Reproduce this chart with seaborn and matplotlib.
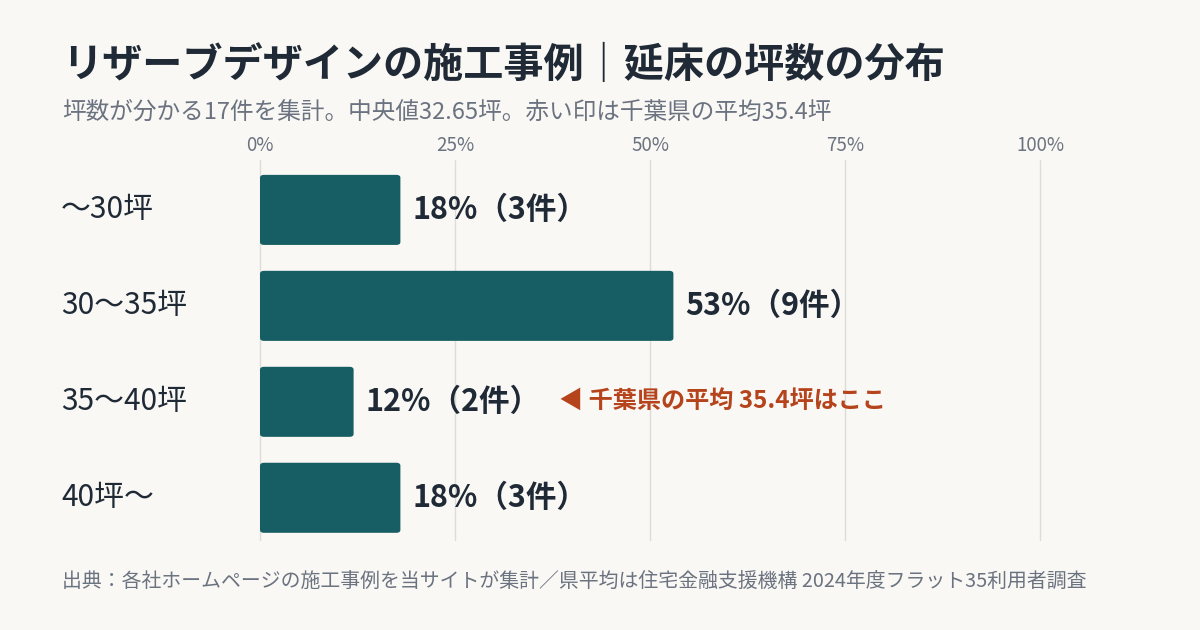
import matplotlib
matplotlib.use("Agg")
import matplotlib.pyplot as plt
import seaborn as sns
import pandas as pd
from matplotlib.patches import FancyBboxPatch

# data
CATEGORIES = ["〜30坪", "30〜35坪", "35〜40坪", "40坪〜"]
PERCENTS = [18, 53, 12, 18]
COUNTS = [3, 9, 2, 3]
X_TICKS = [0, 25, 50, 75, 100]
X_TICK_LABELS = ["0%", "25%", "50%", "75%", "100%"]

TITLE = "リザーブデザインの施工事例｜延床の坪数の分布"
SUBTITLE = "坪数が分かる17件を集計。中央値32.65坪。赤い印は千葉県の平均35.4坪"
NOTE = "◀ 千葉県の平均 35.4坪はここ"
NOTE_CATEGORY = "35〜40坪"
SOURCE = "出典：各社ホームページの施工事例を当サイトが集計／県平均は住宅金融支援機構 2024年度フラット35利用者調査"

BG = "#f9f8f4"
BAR = "#165e63"
DARK = "#1f2a36"
GRAY = "#6b7280"
RED = "#b5431b"
GRID = "#dddcd6"

FONT = ["Noto Sans CJK JP", "DejaVu Sans"]


def main():
    sns.set_theme(style="white")
    plt.rcParams["font.family"] = FONT

    df = pd.DataFrame({"cat": CATEGORIES, "pct": PERCENTS, "n": COUNTS})

    fig = plt.figure(figsize=(12, 6.3), dpi=100, facecolor=BG)
    ax = fig.add_axes([260 / 1200, 1 - 540 / 630, 780 / 1200, 380 / 630])
    ax.set_facecolor(BG)

    sns.barplot(data=df, x="pct", y="cat", color=BAR, width=0.73,
                saturation=1, ax=ax, zorder=3)

    # swap plain rectangles for slightly rounded ones
    for p in list(ax.patches):
        x, y = p.get_x(), p.get_y()
        w, h = p.get_width(), p.get_height()
        p.remove()
        ax.add_patch(FancyBboxPatch((x, y), w, h,
                                    boxstyle="round,pad=0,rounding_size=0.5",
                                    mutation_aspect=0.06,
                                    facecolor=BAR, edgecolor="none", zorder=3))

    ax.set_xlim(0, 100)
    ax.set_ylim(3.44, -0.52)
    ax.set_xticks(X_TICKS)
    ax.set_xticklabels(X_TICK_LABELS)
    ax.xaxis.tick_top()
    ax.tick_params(axis="x", length=0, pad=3, labelsize=13.5, labelcolor=GRAY)
    ax.tick_params(axis="y", length=0)
    ax.set_yticklabels([])
    ax.set_xlabel("")
    ax.set_ylabel("")
    for s in ax.spines.values():
        s.set_visible(False)
    ax.grid(axis="x", color=GRID, linewidth=1, zorder=0)
    for gl in ax.get_xgridlines():
        gl.set_clip_on(False)
    ax.set_axisbelow(True)

    for i, (cat, v, n) in enumerate(zip(CATEGORIES, PERCENTS, COUNTS)):
        ax.text(v + 1.5, i, f"{v}%（{n}件）", ha="left", va="center",
                fontsize=22, fontweight="bold", color=DARK)
        ax.annotate(cat, xy=(0, i), xycoords=("axes fraction", "data"),
                    xytext=(-199, 0), textcoords="offset pixels",
                    ha="left", va="center", fontsize=21.5, color=DARK)

    j = CATEGORIES.index(NOTE_CATEGORY)
    ax.text(38.3, j, NOTE, ha="left", va="center", fontsize=17.4,
            fontweight="bold", color=RED)

    fig.text(62 / 1200, 1 - 66 / 630, TITLE, ha="left", va="center",
             fontsize=28.9, fontweight="bold", color=DARK)
    fig.text(62 / 1200, 1 - 112 / 630, SUBTITLE, ha="left", va="center",
             fontsize=17, color=GRAY)
    fig.text(62 / 1200, 1 - 581 / 630, SOURCE, ha="left", va="center",
             fontsize=14.3, color=GRAY)

    fig.savefig("out.png", dpi=100, facecolor=BG)
    plt.close(fig)


if __name__ == "__main__":
    main()
